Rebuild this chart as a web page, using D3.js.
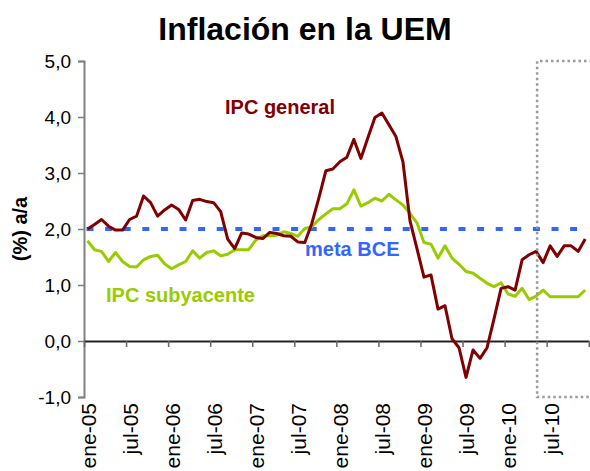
<!DOCTYPE html>
<html>
<head>
<meta charset="utf-8">
<script src="https://cdn.jsdelivr.net/npm/d3@7"></script>
<style>
  body { margin: 0; background: #fff; }
  text { font-family: "Liberation Sans", Arial, sans-serif; }
</style>
</head>
<body>
<div id="chart"></div>
<script>
// Month names and years for the category axis
var monthNames = ["ene", "feb", "mar", "abr", "may", "jun", "jul", "ago", "sep", "oct", "nov", "dic"];
var years = ["05", "06", "07", "08", "09", "10"];
var categories = [];
years.forEach(function(y) {
    monthNames.forEach(function(m) { categories.push(m + "-" + y); });
});

// Tick labels shown on the x axis
var tickLabels = ["ene-05", "jul-05", "ene-06", "jul-06", "ene-07", "jul-07",
                  "ene-08", "jul-08", "ene-09", "jul-09", "ene-10", "jul-10"];

// IPC general (% a/a), ene-05 .. dic-10
var ipcGeneral = [
    2.00, 2.08, 2.17, 2.05, 1.98, 1.98, 2.17, 2.23, 2.59, 2.47, 2.23, 2.34,
    2.43, 2.35, 2.16, 2.51, 2.53, 2.49, 2.47, 2.31, 1.82, 1.65, 1.93, 1.91,
    1.85, 1.83, 1.94, 1.92, 1.88, 1.87, 1.77, 1.76, 2.10, 2.55, 3.04, 3.07,
    3.20, 3.28, 3.60, 3.26, 3.63, 3.99, 4.07, 3.86, 3.65, 3.20, 2.15, 1.65,
    1.14, 1.18, 0.57, 0.63, 0.04, -0.12, -0.65, -0.16, -0.31, -0.12, 0.40, 0.94,
    0.97, 0.91, 1.45, 1.54, 1.60, 1.40, 1.70, 1.51, 1.70, 1.70, 1.60, 1.82
];

// IPC subyacente (% a/a), ene-05 .. dic-10
var ipcSubyacente = [
    1.79, 1.63, 1.60, 1.42, 1.58, 1.42, 1.33, 1.32, 1.45, 1.51, 1.53, 1.38,
    1.29, 1.36, 1.42, 1.61, 1.48, 1.58, 1.61, 1.52, 1.55, 1.63, 1.63, 1.63,
    1.80, 1.88, 1.88, 1.89, 1.95, 1.92, 1.87, 2.01, 2.04, 2.17, 2.27, 2.36,
    2.36, 2.45, 2.70, 2.41, 2.47, 2.55, 2.50, 2.62, 2.52, 2.43, 2.28, 2.11,
    1.76, 1.73, 1.48, 1.70, 1.48, 1.37, 1.24, 1.21, 1.12, 1.03, 0.97, 1.04,
    0.84, 0.80, 0.94, 0.74, 0.80, 0.91, 0.79, 0.79, 0.79, 0.79, 0.79, 0.91
];

// ECB target, drawn up to nov-10
var metaBCE = 2.0;
var metaEnd = "nov-10";
// Forecast zone starts here
var forecastStart = "may-10";

var yTicks = [-1, 0, 1, 2, 3, 4, 5];

var svgWidth = 590;
var svgHeight = 471;

var svg = d3.select("#chart")
    .append("svg")
    .attr("width", svgWidth)
    .attr("height", svgHeight);

// Scales
var xScale = d3.scaleLinear()
    .domain([0, categories.length])
    .range([84, 588.7]);

var yScale = d3.scaleLinear()
    .domain([-1, 5])
    .range([397, 61]);

var xMid = function(i) { return xScale(i + 0.5); };

// Title
svg.append("text")
    .attr("x", 305)
    .attr("y", 40)
    .attr("text-anchor", "middle")
    .style("font-size", "32px")
    .style("font-weight", "bold")
    .text("Inflación en la UEM");

// Y axis
var yAxis = d3.axisLeft(yScale)
    .tickValues(yTicks)
    .tickSize(6)
    .tickPadding(7)
    .tickFormat(d => d3.format(".1f")(d).replace(".", ",").replace("−", "-"));

var yG = svg.append("g")
    .attr("transform", "translate(84,0)")
    .call(yAxis);
yG.select(".domain").attr("stroke", "#808080").attr("stroke-width", 2);
yG.selectAll(".tick line").attr("stroke", "#808080").attr("stroke-width", 1.5);
yG.selectAll(".tick text")
    .attr("fill", "#000")
    .style("font-size", "19px")
    .style("font-family", "'Liberation Sans', Arial, sans-serif");

// X axis at value 0 with ticks between categories
var xTickVals = d3.range(0, categories.length + 1, 6);
var xAxis = d3.axisBottom(xScale)
    .tickValues(xTickVals)
    .tickSize(6)
    .tickSizeOuter(0)
    .tickFormat("");

var xG = svg.append("g")
    .attr("transform", `translate(0, ${yScale(0)})`)
    .call(xAxis);
xG.select(".domain").attr("stroke", "#222").attr("stroke-width", 2);
xG.selectAll(".tick line").attr("stroke", "#666").attr("stroke-width", 1.5);

// Rotated month labels at the bottom of the plot
svg.selectAll(".xlabel")
    .data(tickLabels)
    .enter()
    .append("text")
    .attr("class", "xlabel")
    .attr("transform", d => `translate(${xMid(categories.indexOf(d)) + 1}, 403) rotate(-90)`)
    .attr("text-anchor", "end")
    .attr("dy", "0.35em")
    .style("font-size", "21px")
    .text(d => d);

// Y axis title
svg.append("text")
    .attr("transform", "translate(20, 229) rotate(-90)")
    .attr("text-anchor", "middle")
    .attr("dy", "0.35em")
    .style("font-size", "20px")
    .style("font-weight", "bold")
    .text("(%) a/a");

// Meta BCE dashed line
svg.append("line")
    .attr("x1", xMid(0) - 1)
    .attr("x2", xMid(categories.indexOf(metaEnd)))
    .attr("y1", yScale(metaBCE))
    .attr("y2", yScale(metaBCE))
    .attr("stroke", "#3366ff")
    .attr("stroke-width", 4)
    .attr("stroke-dasharray", "7,11.6");

// Series lines
var line = d3.line()
    .x((d, i) => xMid(i))
    .y(d => yScale(d));

svg.append("path")
    .datum(ipcSubyacente)
    .attr("fill", "none")
    .attr("stroke", "#99cc00")
    .attr("stroke-width", 3)
    .attr("stroke-linejoin", "round")
    .attr("d", line);

svg.append("path")
    .datum(ipcGeneral)
    .attr("fill", "none")
    .attr("stroke", "#800000")
    .attr("stroke-width", 3)
    .attr("stroke-linejoin", "round")
    .attr("d", line);

// Forecast box (dotted)
var fx = xMid(categories.indexOf(forecastStart)) + 1;
svg.append("path")
    .attr("d", `M${svgWidth + 2},${yScale(5)} L${fx},${yScale(5)} L${fx},${yScale(-1)} L${svgWidth + 2},${yScale(-1)}`)
    .attr("fill", "none")
    .attr("stroke", "#9a9a9a")
    .attr("stroke-width", 2.5)
    .attr("stroke-dasharray", "2.5,3");

// Series labels
svg.append("text")
    .attr("x", 225).attr("y", 114)
    .attr("fill", "#800000")
    .style("font-size", "20px").style("font-weight", "bold")
    .text("IPC general");

svg.append("text")
    .attr("x", 305).attr("y", 256)
    .attr("fill", "#3366ff")
    .style("font-size", "20px").style("font-weight", "bold")
    .text("meta BCE");

svg.append("text")
    .attr("x", 106).attr("y", 302)
    .attr("fill", "#99cc00")
    .style("font-size", "20px").style("font-weight", "bold")
    .text("IPC subyacente");
</script>
</body>
</html>
